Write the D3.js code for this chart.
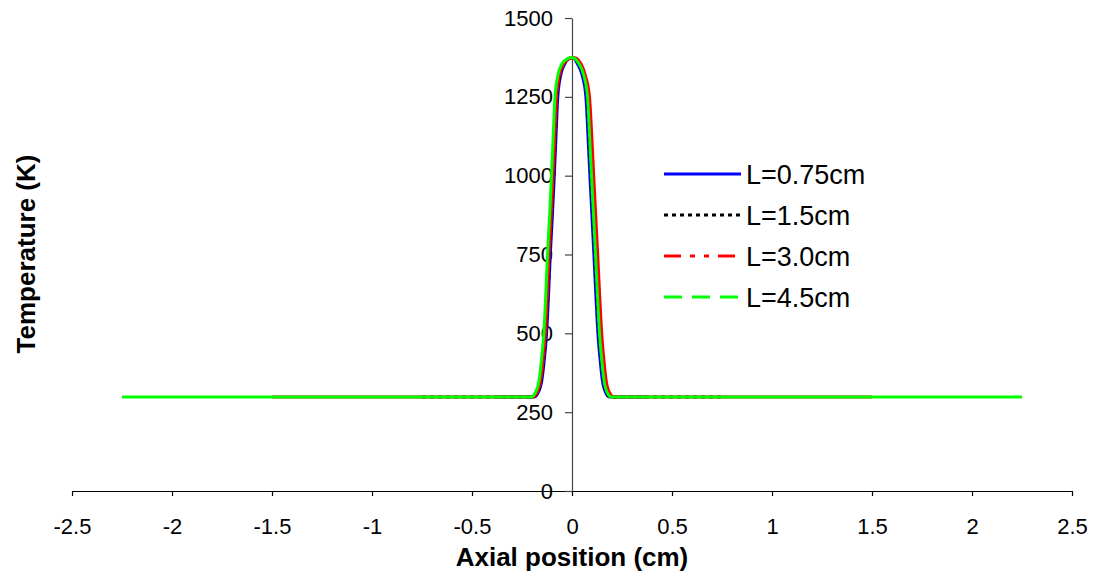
<!DOCTYPE html>
<html>
<head>
<meta charset="utf-8">
<script src="https://cdn.jsdelivr.net/npm/d3@7"></script>
<style>
  html, body { margin: 0; padding: 0; background: #fff; }
  svg { display: block; font-family: "Liberation Sans", Arial, sans-serif; }
</style>
</head>
<body>
<svg id="chart" width="1098" height="575"></svg>
<script>
// Axial temperature profiles for four heated-zone lengths L.
const seriesNames = ["L=0.75cm", "L=1.5cm", "L=3.0cm", "L=4.5cm"];

// Temperature (K) at each profile point, shared by all four profiles.
const temperatures = [298, 298, 310, 350, 420, 500, 625, 750, 875, 1000, 1125, 1250, 1320, 1355, 1372,
                      1375,
                      1372, 1355, 1320, 1250, 1125, 1000, 875, 750, 625, 500, 420, 350, 310, 298, 298];

// Axial position (cm) of each point, one array per profile.
const posL075 = [-0.375, -0.191, -0.171, -0.151, -0.138, -0.127, -0.117, -0.1085, -0.098, -0.0885, -0.08, -0.071, -0.056, -0.036, -0.012,
                 -0.001,
                 0.01, 0.027, 0.05, 0.0695, 0.08, 0.0895, 0.0995, 0.1095, 0.119, 0.1295, 0.14, 0.152, 0.17, 0.189, 0.375];
const posL15 = [-0.75, -0.194, -0.174, -0.154, -0.141, -0.130, -0.120, -0.1115, -0.101, -0.0915, -0.083, -0.074, -0.059, -0.039, -0.012,
                0.002,
                0.012, 0.032, 0.055, 0.0745, 0.085, 0.0945, 0.1045, 0.1145, 0.124, 0.1345, 0.145, 0.157, 0.175, 0.194, 0.75];
const posL30 = [-1.5, -0.197, -0.177, -0.157, -0.144, -0.133, -0.123, -0.1145, -0.104, -0.0945, -0.086, -0.077, -0.062, -0.042, -0.012,
                0.005,
                0.022, 0.045, 0.066, 0.0875, 0.099, 0.1085, 0.1185, 0.1285, 0.138, 0.1485, 0.159, 0.171, 0.189, 0.208, 1.5];
const posL45 = [-2.25, -0.205, -0.185, -0.165, -0.152, -0.141, -0.131, -0.1225, -0.112, -0.1025, -0.094, -0.085, -0.07, -0.05, -0.02,
                -0.005,
                0.012, 0.035, 0.058, 0.0775, 0.088, 0.0975, 0.1075, 0.1175, 0.127, 0.1375, 0.148, 0.16, 0.178, 0.197, 2.25];

const xTicks = [-2.5, -2, -1.5, -1, -0.5, 0, 0.5, 1, 1.5, 2, 2.5];
const yTicks = [0, 250, 500, 750, 1000, 1250, 1500];

const positions = [posL075, posL15, posL30, posL45];
const colors = ["#0000ff", "#000000", "#ff0000", "#00ff00"];
const legendDash = [null, "4,4", "17,9,5,9,5,9", "18,10"];
const plotDash = [null, "4,4", null, null];

const svg = d3.select("#chart");

const x = d3.scaleLinear().domain([-2.5, 2.5]).range([72, 1072]);
const y = d3.scaleLinear().domain([0, 1500]).range([491, 18]);

// Horizontal axis along T = 0
const xAxis = svg.append("g")
  .attr("transform", `translate(0,${y(0)})`)
  .call(d3.axisBottom(x).tickValues(xTicks).tickSize(5).tickSizeOuter(0).tickPadding(22)
        .tickFormat(d => String(d)));
xAxis.select(".domain").attr("stroke", "#000").attr("stroke-width", 1.2);
xAxis.selectAll(".tick line").attr("stroke", "#000").attr("stroke-width", 1.2);
xAxis.selectAll(".tick text").attr("font-size", 22).attr("fill", "#000")
  .attr("font-family", "Liberation Sans, Arial, sans-serif");

// Vertical axis crossing at x = 0
const yAxis = svg.append("g")
  .attr("transform", `translate(${x(0)},0)`)
  .call(d3.axisLeft(y).tickValues(yTicks).tickSize(7).tickSizeOuter(0).tickPadding(12)
        .tickFormat(d => String(d)));
yAxis.select(".domain").attr("stroke", "#444").attr("stroke-width", 1.2);
yAxis.selectAll(".tick line").attr("stroke", "#444").attr("stroke-width", 1.2);
yAxis.selectAll(".tick text").attr("font-size", 22).attr("fill", "#000")
  .attr("font-family", "Liberation Sans, Arial, sans-serif");

// Profiles
const line = d3.line()
  .x(d => x(d[0]))
  .y(d => y(d[1]))
  .curve(d3.curveMonotoneX);

positions.forEach((pos, i) => {
  const pts = pos.map((p, k) => [p, temperatures[k]]);
  svg.append("path")
    .datum(pts)
    .attr("fill", "none")
    .attr("stroke", colors[i])
    .attr("stroke-width", 3)
    .attr("stroke-dasharray", plotDash[i])
    .attr("d", line);
});

// Legend
const legend = svg.append("g");
seriesNames.forEach((name, i) => {
  const yy = 174 + i * 41;
  legend.append("line")
    .attr("x1", 664).attr("x2", 741)
    .attr("y1", yy).attr("y2", yy)
    .attr("stroke", colors[i])
    .attr("stroke-width", 3)
    .attr("stroke-dasharray", legendDash[i]);
  legend.append("text")
    .attr("x", 746).attr("y", yy)
    .attr("dy", "0.36em")
    .attr("font-size", 27)
    .attr("fill", "#000")
    .text(name);
});

// Axis titles
svg.append("text")
  .attr("x", x(0)).attr("y", 566)
  .attr("text-anchor", "middle")
  .attr("font-size", 26).attr("font-weight", "bold")
  .text("Axial position (cm)");

svg.append("text")
  .attr("transform", `translate(35,254) rotate(-90)`)
  .attr("text-anchor", "middle")
  .attr("font-size", 26).attr("font-weight", "bold")
  .text("Temperature (K)");
</script>
</body>
</html>
